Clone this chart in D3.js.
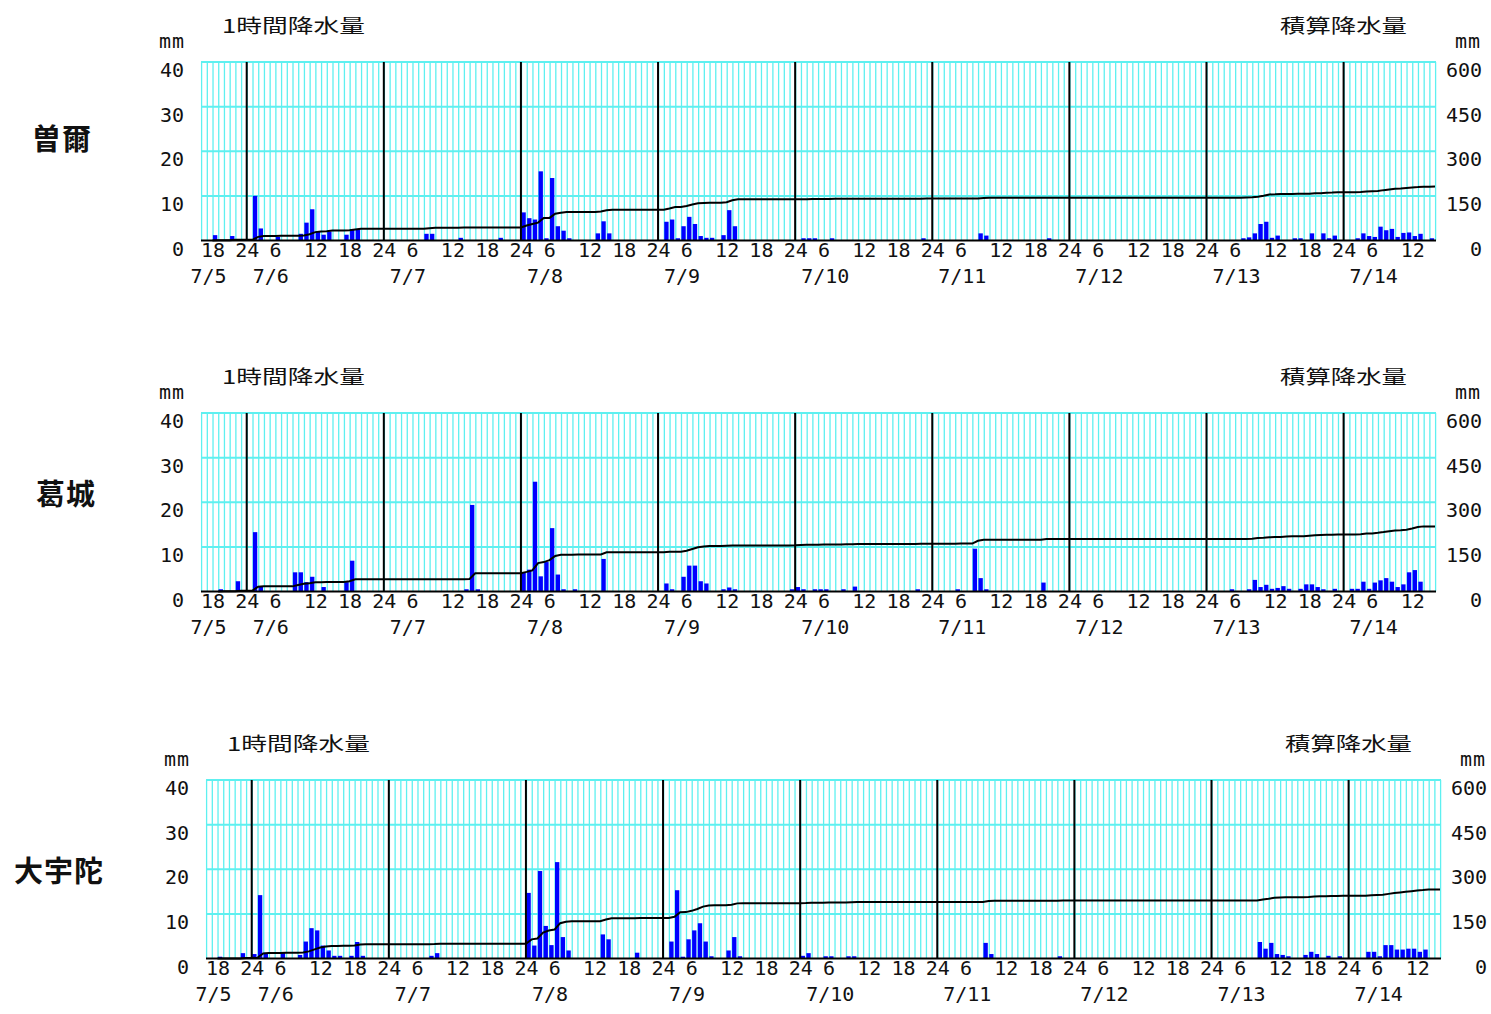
<!DOCTYPE html>
<html>
<head>
<meta charset="utf-8">
<script src="https://cdn.jsdelivr.net/npm/d3@7"></script>
<style>
  body { margin: 0; background: #fff; }
  svg { display: block; }
  text { font-family: "DejaVu Sans Mono", monospace; font-size: 20px; fill: #111; }
  .jp { font-family: "Noto Sans CJK JP", sans-serif; font-size: 19px; }
  .station { font-family: "Noto Sans CJK JP", sans-serif; font-size: 29px; font-weight: 700; letter-spacing: 1px; }
</style>
</head>
<body>
<script>
// hours are counted from 7/5 00:00, the charts run from 7/5 16:00 to 7/14 16:00
var firstHour = 16;
var lastHour = 232;

var dayLabels = ["7/5", "7/6", "7/7", "7/8", "7/9", "7/10", "7/11", "7/12", "7/13", "7/14"];
var hourTicks = d3.range(18, lastHour, 6);
var leftTicks = [0, 10, 20, 30, 40];
var rightTicks = [0, 150, 300, 450, 600];

// hourly rainfall (mm), one row per day, null = no observation yet
var soniRain = [
  null, null, 1.2, 0, 0, 1.0, 0, 0,                                                   // 7/5 16-23
  0, 10, 2.7, 0, 0, 0.8, 0, 0, 0, 1.5, 4, 7, 2, 1.3, 2, 0, 0, 1.3, 2.5, 2.5, 0, 0, 0, 0, // 7/6
  0, 0, 0, 0, 0, 0, 0, 1.5, 1.5, 0, 0, 0, 0, 0.6, 0, 0, 0, 0, 0, 0, 0.6, 0, 0, 0,       // 7/7
  6.3, 5, 4.7, 15.5, 0.5, 14, 3.2, 2.2, 0.5, 0, 0, 0, 0, 1.6, 4.3, 1.6, 0, 0, 0, 0, 0, 0, 0, 0, // 7/8
  0, 4.2, 4.7, 0.5, 3.2, 5.3, 3.7, 1.0, 0.6, 0.6, 0, 1.2, 6.8, 3.2, 0, 0, 0, 0, 0, 0, 0, 0, 0, 0, // 7/9
  0, 0.5, 0.5, 0.5, 0, 0, 0.5, 0, 0, 0, 0, 0, 0, 0, 0, 0, 0, 0, 0, 0, 0, 0, 0.5, 0,    // 7/10
  0, 0, 0, 0, 0, 0, 0, 0, 1.6, 1.1, 0, 0, 0, 0, 0, 0, 0, 0, 0, 0, 0.5, 0, 0, 0,        // 7/11
  0, 0, 0, 0, 0, 0, 0, 0, 0, 0, 0, 0, 0, 0, 0, 0, 0, 0, 0, 0, 0, 0, 0, 0,              // 7/12
  0, 0, 0, 0, 0, 0, 0.5, 0.7, 1.6, 3.7, 4.2, 0.6, 1.1, 0, 0, 0.5, 0.5, 0, 1.6, 0, 1.6, 0.5, 1.1, 0, // 7/13
  0, 0, 0.5, 1.6, 1.0, 0.8, 3.1, 2.3, 2.6, 0.8, 1.7, 1.8, 1.0, 1.5, 0, 0.5             // 7/14 00-15
];

var katsuragiRain = [
  null, null, null, 0.5, 0, 0, 2.3, 0,
  0, 13.3, 1.2, 0, 0, 0, 0, 0, 4.3, 4.3, 2.1, 3.3, 0, 1.0, 0, 0, 0, 2.1, 6.9, 0, 0, 0, 0, 0,
  0, 0, 0, 0, 0, 0, 0, 0, 0, 0, 0, 0, 0, 0, 0.5, 19.4, 0.5, 0, 0, 0, 0, 0, 0, 0,
  4.2, 4.9, 24.6, 3.4, 6.6, 14.2, 3.8, 0.5, 0, 0.5, 0, 0, 0, 0, 7.3, 0, 0, 0, 0, 0, 0, 0, 0, 0,
  0, 1.8, 0.5, 0, 3.3, 5.8, 5.8, 2.3, 1.8, 0, 0, 0.5, 0.9, 0.5, 0, 0, 0, 0, 0, 0, 0, 0, 0, 0.5,
  1.0, 0.5, 0, 0.5, 0.5, 0.5, 0, 0, 0.5, 0, 1.1, 0, 0, 0, 0, 0, 0, 0, 0, 0, 0, 0.5, 0, 0,
  0, 0, 0, 0, 0.5, 0, 0, 9.6, 3.0, 0.5, 0, 0, 0, 0, 0, 0, 0, 0, 0, 2.0, 0, 0, 0, 0,
  0, 0, 0, 0, 0, 0, 0, 0, 0, 0, 0, 0, 0, 0, 0, 0, 0, 0, 0, 0, 0, 0, 0, 0,
  0, 0, 0, 0, 0.5, 0, 0, 0.5, 2.6, 1.0, 1.5, 0.6, 0.8, 1.2, 0.6, 0, 0.6, 1.6, 1.6, 1.0, 0.5, 0, 0.6, 0,
  0, 0.6, 0.6, 2.2, 0.6, 2.0, 2.5, 3.0, 2.2, 1.0, 1.6, 4.3, 4.8, 2.2, 0, 0
];

var oudaRain = [
  null, null, 0.4, 0, 0, 0, 1.2, 0,
  1.0, 14.2, 1.3, 0, 0, 1.3, 0, 0, 0.8, 3.8, 6.8, 6.3, 2.9, 1.8, 0.6, 0.6, 0, 0.6, 3.7, 0.6, 0, 0, 0, 0,
  0, 0, 0, 0, 0, 0, 0, 0.6, 1.2, 0, 0, 0, 0, 0, 0, 0, 0, 0, 0, 0, 0, 0, 0, 0,
  14.7, 2.9, 19.6, 7.3, 3.0, 21.6, 4.8, 1.8, 0, 0, 0, 0, 0, 5.4, 4.3, 0, 0, 0, 0, 1.3, 0, 0, 0, 0,
  0, 3.8, 15.3, 0.4, 4.3, 6.3, 7.9, 3.8, 0.5, 0, 0, 1.8, 4.8, 0.5, 0, 0, 0, 0, 0, 0, 0, 0, 0, 0,
  0.6, 1.2, 0, 0, 0.5, 0.5, 0, 0, 0.5, 0.5, 0, 0, 0, 0, 0, 0, 0, 0, 0, 0, 0, 0, 0, 0,
  0, 0, 0, 0, 0, 0, 0, 0, 3.5, 1.0, 0, 0, 0, 0, 0, 0, 0, 0, 0, 0, 0, 0.5, 0, 0,
  0, 0, 0, 0, 0, 0, 0, 0, 0, 0, 0, 0, 0, 0, 0, 0, 0, 0, 0, 0, 0, 0, 0, 0,
  0, 0, 0, 0, 0, 0, 0, 0, 3.7, 2.2, 3.5, 1.0, 0.8, 0.5, 0, 0, 0.8, 1.5, 1.0, 0, 0.6, 0, 0.5, 0,
  0, 0, 0, 1.5, 1.5, 0.5, 3.0, 3.0, 2.0, 2.0, 2.2, 2.2, 1.5, 2.0, 0, 0
];

var stationNames = ["曽爾", "葛城", "大宇陀"];
var stationRain = [soniRain, katsuragiRain, oudaRain];

// layout of the three panels
var panels = [
  { left: 201, top: 62, nameX: 62, nameY: 150 },
  { left: 201, top: 413, nameX: 66, nameY: 505 },
  { left: 206, top: 780, nameX: 59, nameY: 882 }
];
var plotW = 1234;
var plotH = 178.5;

var gridColor = "#5ef0f0";

var svg = d3.select("body").append("svg")
    .attr("width", 1491)
    .attr("height", 1014);

panels.forEach(function(p, k) {
    var rain = stationRain[k];
    var bottom = p.top + plotH;
    var right = p.left + plotW;

    var x = d3.scaleLinear().domain([firstHour, lastHour]).range([p.left, right]);
    var y = d3.scaleLinear().domain([0, 40]).range([bottom, p.top]);
    var yCum = d3.scaleLinear().domain([0, 600]).range([bottom, p.top]);
    var hw = x(firstHour + 1) - x(firstHour);

    var g = svg.append("g");

    // hourly grid
    g.append("g").selectAll("line")
        .data(d3.range(firstHour, lastHour + 1))
        .join("line")
        .attr("x1", function(h) { return x(h) + 0.6; })
        .attr("x2", function(h) { return x(h) + 0.6; })
        .attr("y1", p.top)
        .attr("y2", bottom)
        .attr("stroke", gridColor)
        .attr("stroke-width", 1.3);

    g.append("g").selectAll("line")
        .data([10, 20, 30, 40])
        .join("line")
        .attr("x1", p.left)
        .attr("x2", right + 1)
        .attr("y1", function(d) { return y(d); })
        .attr("y2", function(d) { return y(d); })
        .attr("stroke", gridColor)
        .attr("stroke-width", 2);

    // hourly bars
    var bars = rain.map(function(v, i) { return { h: firstHour + i, v: v }; })
        .filter(function(d) { return d.v > 0; });

    g.append("g").selectAll("rect")
        .data(bars)
        .join("rect")
        .attr("x", function(d) { return x(d.h) + 0.5; })
        .attr("y", function(d) { return y(d.v); })
        .attr("width", hw * 0.76)
        .attr("height", function(d) { return y(0) - y(d.v); })
        .attr("fill", "#0000ff");

    // day separators
    g.append("g").selectAll("line")
        .data(d3.range(24, lastHour, 24))
        .join("line")
        .attr("x1", function(h) { return x(h); })
        .attr("x2", function(h) { return x(h); })
        .attr("y1", p.top)
        .attr("y2", bottom)
        .attr("stroke", "#000")
        .attr("stroke-width", 2);

    g.append("line")
        .attr("x1", p.left)
        .attr("x2", right + 1)
        .attr("y1", y(0))
        .attr("y2", y(0))
        .attr("stroke", "#000")
        .attr("stroke-width", 2);

    // accumulated rainfall
    var start = rain.findIndex(function(v) { return v != null; });
    var cum = Array.from(d3.cumsum(rain, function(v) { return v || 0; }));
    var pts = [[firstHour + start, 0]];
    for (var i = start; i < rain.length; i++) {
        pts.push([firstHour + i + 1, cum[i]]);
    }
    g.append("path")
        .datum(pts)
        .attr("fill", "none")
        .attr("stroke", "#000")
        .attr("stroke-width", 2)
        .attr("d", d3.line()
            .x(function(d) { return x(d[0]); })
            .y(function(d) { return yCum(d[1]); }));

    // axes
    g.append("g")
        .attr("transform", "translate(" + (p.left - 17) + ",0)")
        .call(d3.axisLeft(y).tickValues(leftTicks).tickSize(0).tickPadding(0))
        .call(function(a) { a.select(".domain").remove(); })
        .selectAll("text")
        .attr("text-anchor", "end")
        .attr("dy", null)
        .attr("y", 14.5);

    g.append("g")
        .attr("transform", "translate(" + (right + 47) + ",0)")
        .call(d3.axisRight(yCum).tickValues(rightTicks).tickSize(0).tickPadding(0))
        .call(function(a) { a.select(".domain").remove(); })
        .selectAll("text")
        .attr("text-anchor", "end")
        .attr("x", 0)
        .attr("dy", null)
        .attr("y", 14.5);

    g.append("g")
        .attr("transform", "translate(0," + bottom + ")")
        .call(d3.axisBottom(x).tickValues(hourTicks).tickSize(0)
            .tickFormat(function(h) { return h % 24 === 0 ? "24" : String(h % 24); }))
        .call(function(a) { a.select(".domain").remove(); })
        .selectAll("text")
        .attr("text-anchor", "start")
        .attr("x", -12)
        .attr("dy", null)
        .attr("y", 16.5);

    g.append("g").selectAll("text")
        .data(dayLabels)
        .join("text")
        .attr("x", function(d, i) { return i === 0 ? x(hourTicks[0]) - 22 : x(i * 24) + 6; })
        .attr("y", bottom + 42.5)
        .text(function(d) { return d; });

    // units, titles, station name
    g.append("text").attr("x", p.left - 42).attr("y", p.top - 14)
        .attr("letter-spacing", "1px").text("mm");
    g.append("text").attr("x", right + 20).attr("y", p.top - 14)
        .attr("letter-spacing", "1px").text("mm");

    g.append("text").attr("class", "jp")
        .attr("x", p.left + 21).attr("y", p.top - 29)
        .attr("textLength", 143).attr("lengthAdjust", "spacingAndGlyphs")
        .text("1時間降水量");
    g.append("text").attr("class", "jp")
        .attr("x", right - 155).attr("y", p.top - 29)
        .attr("textLength", 127).attr("lengthAdjust", "spacingAndGlyphs")
        .text("積算降水量");

    g.append("text").attr("class", "station")
        .attr("x", p.nameX).attr("y", p.nameY)
        .attr("text-anchor", "middle")
        .text(stationNames[k]);
});
</script>
</body>
</html>
